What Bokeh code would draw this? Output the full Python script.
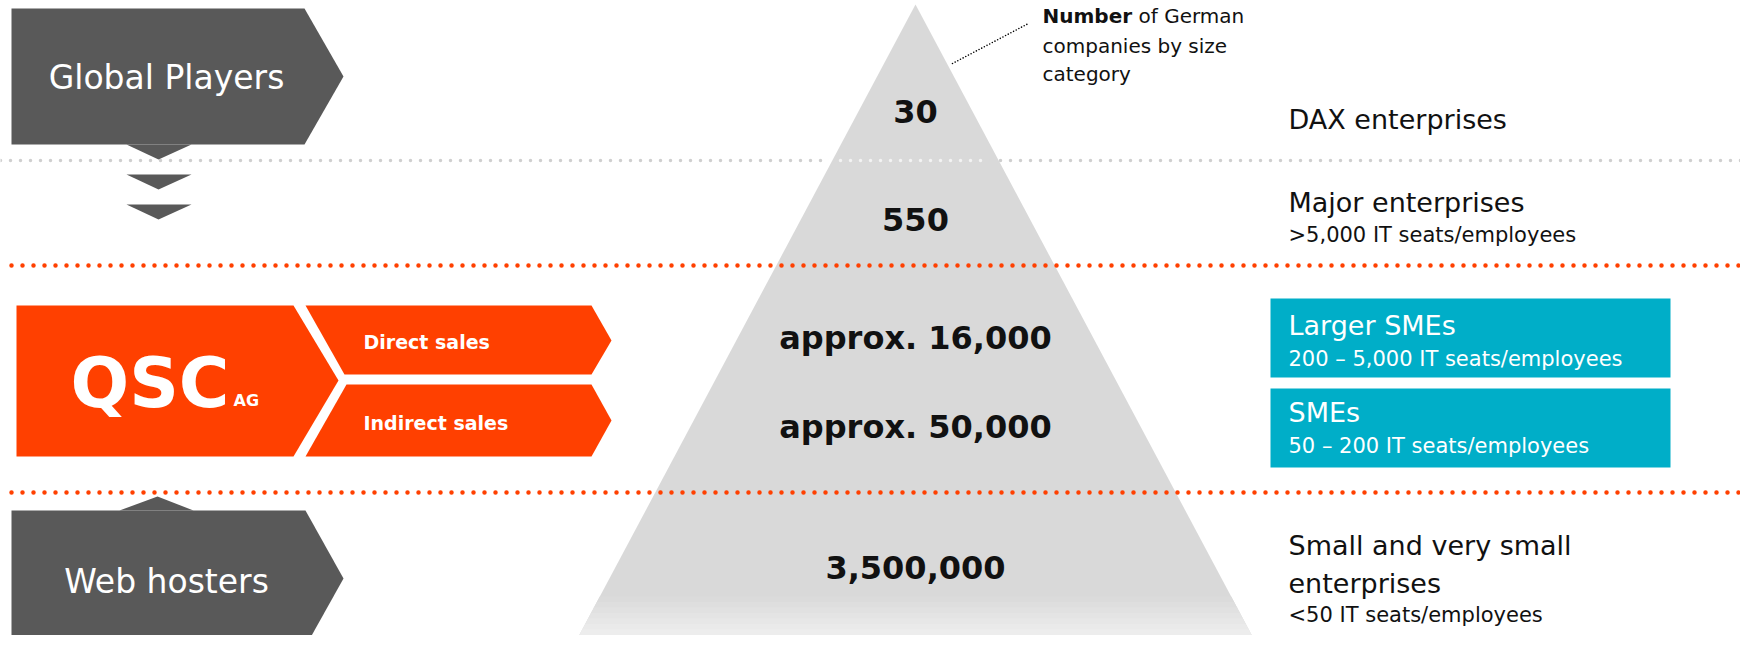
import numpy as np
from bokeh.plotting import figure
from bokeh.models import Range1d, ColumnDataSource
from bokeh.core.properties import value
from bokeh.embed import file_html
from bokeh.resources import INLINE

# ---------------- data ----------------
tier_counts = ["30", "550", "approx. 16,000", "approx. 50,000", "3,500,000"]
seg_titles = ["DAX enterprises", "Major enterprises", "Larger SMEs", "SMEs",
              "Small and very small\nenterprises"]
seg_sizes = ["", ">5,000 IT seats/employees", "200 \u2013 5,000 IT seats/employees",
             "50 \u2013 200 IT seats/employees", "<50 IT seats/employees"]
seg_highlight = [False, False, True, True, False]
player_labels = ["Global Players", "Web hosters"]
channel_labels = ["Direct sales", "Indirect sales"]
brand = ["QSC", "AG"]
note_bold = "Number"
note_lines = ["of German", "companies by size", "category"]

# ---------------- layout (page pixels, y downwards) ----------------
W, H = 1740, 635
FONT = "DejaVu Sans"
GREY_BOX = "#595959"
ORANGE = "#ff4000"
TEAL = "#00aec8"
PYR = "#d9d9d9"
INK = "#111111"

count_y = [111, 219, 337, 426, 567]
title_y = [119, 202, 325, 412, 545]
size_y = [None, 234, 358, 445, 614]
LABEL_X = 1288
LINE_STEP = 38

p = figure(width=W, height=H, x_range=Range1d(0, W), y_range=Range1d(H, 0),
           output_backend="svg", toolbar_location=None, min_border=0,
           x_axis_type=None, y_axis_type=None)
p.grid.visible = False
p.outline_line_color = None
p.background_fill_color = "white"
p.border_fill_color = "white"


def txt(x, y, s, size, color=INK, bold=False, align="left"):
    p.text(x=[x], y=[y], text=[s], text_font=value(FONT), text_font_size=f"{size}px",
           text_font_style="bold" if bold else "normal", text_color=color,
           text_align=align, text_baseline="alphabetic")


# ---------------- pyramid ----------------
AX, AY = 915, 4
BY, BHALF = 651, 345


def half(y):
    return BHALF * (y - AY) / (BY - AY)


p.patch([AX - half(BY), AX, AX + half(BY)], [BY, AY, BY], fill_color=PYR, line_color=None)
# fade at the bottom
n = 10
y0 = 596
step = (BY - y0) / n
for i in range(n):
    ya, yb = y0 + i * step, y0 + (i + 1) * step + 0.6
    g = int(217 + (246 - 217) * (i + 1) / n)
    p.patch([AX - half(ya), AX + half(ya), AX + half(yb), AX - half(yb)], [ya, ya, yb, yb],
            fill_color=f"#{g:02x}{g:02x}{g:02x}", line_color=None)

# ---------------- dotted separators ----------------
GREY_Y = 160
for xa, xb, c in ((0, 830, "#cfcfcf"), (840, 990, "#f3f3f3"), (1000, 1756, "#cfcfcf")):
    p.line([xa, xb], [GREY_Y, GREY_Y], line_color=c, line_width=3.5, line_dash="0 10",
           line_cap="round")
for yy in (265, 492):
    p.line([11, 1756], [yy, yy], line_color=ORANGE, line_width=4.5, line_dash="0 11",
           line_cap="round")

# leader line for note
p.line([952, 1028], [63, 23], line_color="#000000", line_width=1.6, line_dash="0 3",
       line_cap="round")

# ---------------- left grey boxes ----------------
p.patch([11, 304, 343, 304, 11], [8, 8, 76, 144, 144], fill_color=GREY_BOX, line_color=None)
for top in (144, 174, 204):
    p.patch([126, 191, 158], [top, top, top + 15], fill_color=GREY_BOX, line_color=None)
p.patch([11, 305, 343, 305, 11], [510, 510, 578, 646, 646], fill_color=GREY_BOX, line_color=None)
p.patch([119, 193, 157], [510, 510, 496], fill_color=GREY_BOX, line_color=None)

txt(166, 77, player_labels[0], 33, "white", align="center")
txt(166, 581, player_labels[1], 33, "white", align="center")

# ---------------- QSC block ----------------
p.patch([16, 293, 338, 293, 16], [305, 305, 380, 456, 456], fill_color=ORANGE, line_color=None)
p.patch([305, 591, 611, 591, 344], [305, 305, 340, 374, 374], fill_color=ORANGE, line_color=None)
p.patch([346, 591, 611, 591, 305], [384, 384, 420, 456, 456], fill_color=ORANGE, line_color=None)
txt(70, 382, brand[0], 69, "white", bold=True)
txt(233, 400, brand[1], 16, "white", bold=True)
txt(363, 341, channel_labels[0], 19, "white", bold=True)
txt(363, 422, channel_labels[1], 19, "white", bold=True)

# ---------------- teal highlight boxes ----------------
box_tops = [298, 388]
hl = [i for i, h in enumerate(seg_highlight) if h]
for i, t in zip(hl, box_tops):
    p.quad(left=[1270], right=[1670], top=[t], bottom=[t + 79], fill_color=TEAL, line_color=None)

# ---------------- pyramid counts ----------------
src = ColumnDataSource(dict(x=[AX] * len(tier_counts), y=count_y, t=tier_counts))
p.text(x="x", y="y", text="t", source=src, text_font=value(FONT), text_font_size="32px",
       text_font_style="bold", text_color=INK, text_align="center", text_baseline="alphabetic")

# ---------------- right labels ----------------
for i, (title, size) in enumerate(zip(seg_titles, seg_sizes)):
    col = "white" if seg_highlight[i] else INK
    for k, line in enumerate(title.split("\n")):
        txt(LABEL_X, title_y[i] + k * LINE_STEP, line, 27, col)
    if size:
        txt(LABEL_X, size_y[i], size, 21, col)

# ---------------- note ----------------
txt(1042, 15, note_bold, 20, INK, bold=True)
txt(1138, 15, note_lines[0], 20, INK)
txt(1042, 45, note_lines[1], 20, INK)
txt(1042, 73, note_lines[2], 20, INK)

open("out.html", "w").write(file_html(p, INLINE))
